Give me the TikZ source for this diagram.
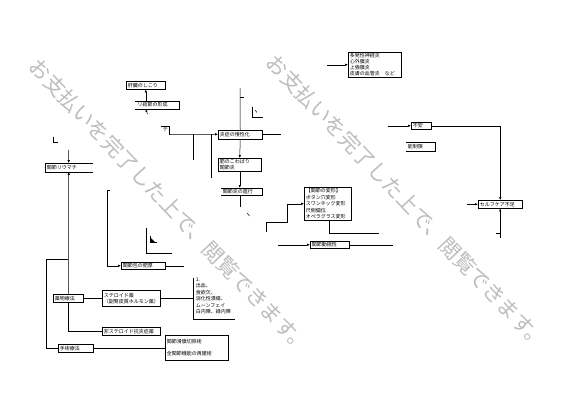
\documentclass[tikz,border=0pt]{standalone}
\usepackage{fontspec}
\setmainfont{Noto Sans CJK JP}
\usetikzlibrary{arrows.meta,shadows}
\newcommand{\lblfont}{\fontsize{5}{6}\selectfont}

\tikzset{
  bx/.style={draw, fill=white, anchor=north west, align=left,
    inner xsep=1.5pt, inner ysep=0.5pt, font=\lblfont,
    drop shadow={shadow xshift=0.7pt, shadow yshift=-0.7pt, fill=black!55, opacity=0.9}},
  openbx/.style={anchor=north west, align=left, inner xsep=1.5pt, inner ysep=0.5pt, font=\lblfont},
  arr/.style={-{Latex[length=2.8pt,width=2.4pt]}},
  wmark/.style={text=black!26, font=\fontsize{21}{21}\selectfont, rotate=-46.5, inner sep=0pt},
}

\begin{document}
\begin{tikzpicture}[x=1pt, y=-1pt, line width=0.5pt]
  \useasboundingbox (0,0) rectangle (580,410);

  % upper chain
  \node[bx, text width=36pt, minimum height=8pt] (liver) at (126,81) {肝臓のしこり};
  \node[openbx, text width=41pt, minimum height=7.5pt] (nodule) at (135,101) {\,リ結節の形成};
  \draw (nodule.north west) -- (nodule.north east) -- (nodule.south east) -- (nodule.south west);
  \node[openbx, minimum width=8pt, minimum height=8pt, inner sep=0pt] (fragT) at (161,126) {テ};
  \draw (fragT.north west) -- (fragT.north east) -- (fragT.south east);

  \node[bx, text width=41pt, minimum height=9pt] (chron) at (218,129.5) {炎症の慢性化};
  \node[bx, text width=40pt, minimum height=13pt] (stiff) at (218,158) {筋のこわばり\\関節炎};
  \node[openbx, text width=38pt, minimum height=7pt] (prog) at (221,188) {関節炎の進行};
  \draw (prog.north west) -- (prog.north east) -- (prog.south east) -- (prog.south west);

  \node[bx, text width=44pt, minimum height=33pt, font=\fontsize{5}{6.5}\selectfont] (deform) at (304,187)
    {【関節の変形】\\ボタン穴変形\\スワンネック変形\\尺側偏位\\オペラグラス変形};
  \node[bx, text width=36pt, minimum height=7pt] (instab) at (310,241) {関節動揺性};

  % right side
  \node[bx, text width=50pt, minimum height=25pt] (extra) at (348,52)
    {多発性神経炎\\心外膜炎\\上強膜炎\\皮膚の血管炎　など};
  \node[bx, text width=17pt, minimum height=7pt] (anx) at (411,122) {不安};
  \node[openbx, text width=26pt, minimum height=9pt] (limit) at (406,142) {能制限};
  \draw (limit.north west) -- (limit.north east) -- (limit.south east) -- (limit.south west);
  \node[bx, text width=41pt, minimum height=8pt] (self) at (478,200) {セルフケア不足};

  % left side
  \node[openbx, text width=44pt, minimum height=8.5pt] (ra) at (45,163) {関節リウマチ};
  \draw (ra.north east) -- (ra.north west) -- (ra.south west) -- (ra.south east);
  \node[bx, text width=41pt, minimum height=7pt] (caps) at (121,262) {関節包の肥厚};
  \node[bx, text width=27pt, minimum height=8pt] (drug) at (53,294) {薬物療法};
  \node[bx, text width=55pt, minimum height=16pt] (ster) at (102,290) {ステロイド薬\\（副腎皮質ホルモン薬）};
  \node[bx, text width=55pt, minimum height=8pt] (nsaid) at (102,327) {非ステロイド抗炎症薬};
  \node[bx, text width=32pt, minimum height=8pt] (surg) at (58,344) {手術療法};
  \node[bx, text width=60pt, minimum height=25pt] (ops) at (165,335) {関節滑膜切除術\\[6pt]全関節機能の再建術};
  \node[openbx, font=\fontsize{5}{6.5}\selectfont] (sidefx) at (194,277)
    {1.\\出血、\\食欲欠、\\消化性潰瘍、\\ムーンフェイ\\白内障、緑内障};

  % free ends
  \coordinate (nodTail) at (147.5,114);
  \coordinate (jA) at (193,134);
  \coordinate (jB) at (211,134);
  \coordinate (chTop) at (240,88);
  \coordinate (stepBot) at (266,232);
  \coordinate (defEnd) at (379,233);
  \coordinate (raTop) at (68.5,150);
  \coordinate (capTop) at (107,190);
  \coordinate (leftBr) at (46,259);
  \coordinate (seTop) at (193,278);
  \coordinate (seBot) at (193,319);

  % connectors
  \draw[arr] (liver.south |- nodule.north) -- (liver.south);
  \draw[arr] (nodTail) -- (liver.south |- nodule.south);
  \draw[arr] (fragT.south east) -- (chron.west);
  \draw (jA) -- ++(0,26);
  \draw (jB) -- ++(0,44);
  \draw (chTop) -- (chron.north);
  \draw (240,97) -- ++(4,0);
  \draw (chron.east) -- ++(18,0);
  \draw (252,107) -- (252,117) -- (263,117);
  \draw (255,110) -- (257,112.5);
  \draw[arr] (chron.south) -- (stiff.south |- stiff.north);
  \draw[arr] (stiff.south) -- (stiff.south |- prog.north);
  \draw (stiff.south |- prog.south) -- ++(0,11);
  \draw (247,213) -- (249.5,216);
  \draw[arr] (stepBot) -- ++(0,-10) -| ([xshift=-17pt]deform.west) -- (deform.west);
  \draw ([xshift=1.5pt]deform.south) |- (defEnd);
  \draw[arr] ([xshift=-32pt]instab.west) -- (instab.west);
  \draw (instab.east) -- ++(43,0);

  \draw[arr] ([xshift=-21pt]extra.west) -- (extra.west);
  \draw[arr] ([xshift=-23pt]anx.west) -- (anx.west);
  \draw[arr] (anx.east) -| (self.north);
  \draw[arr] ([xshift=-11pt]self.west) -- (self.west);
  \draw[arr] ([yshift=-29pt]self.south) -- (self.south);
  \draw (496,233) -- (500,233);

  \draw[arr] (raTop) -- (ra.north);
  \draw (53,137) -- (53,142) -- (58,142);
  \draw[arr] (drug.north) -- (ra.south);
  \draw (drug.south) -- (drug.south |- nsaid.west) -- (nsaid.west);
  \draw (drug.north |- leftBr) -- (leftBr) |- (surg.west);
  \draw (drug.east) -- (ster.west);
  \draw (ster.east) -- (ster.east -| seTop);
  \draw (seTop) -- (seBot) -- ++(42,0);
  \draw (surg.east) -- (surg.east -| ops.west);
  \draw[arr] (capTop) |- (caps.west);
  \draw (capTop) -- ++(3,0);
  \draw (caps.east) -- ++(18,0);
  \draw (146,228) -- (146,253) -- (172,253);
  \draw (150,236) -- (150,242) -- (157,242);
  \fill (151,238) -- (151,242) -- (155,242) -- cycle;

  % watermark
  \node[wmark] (wmA) at (170,206) {お支払いを完了した上で、閲覧できます。};
  \node[wmark] (wmB) at (407,202) {お支払いを完了した上で、閲覧できます。};
\end{tikzpicture}
\end{document}
